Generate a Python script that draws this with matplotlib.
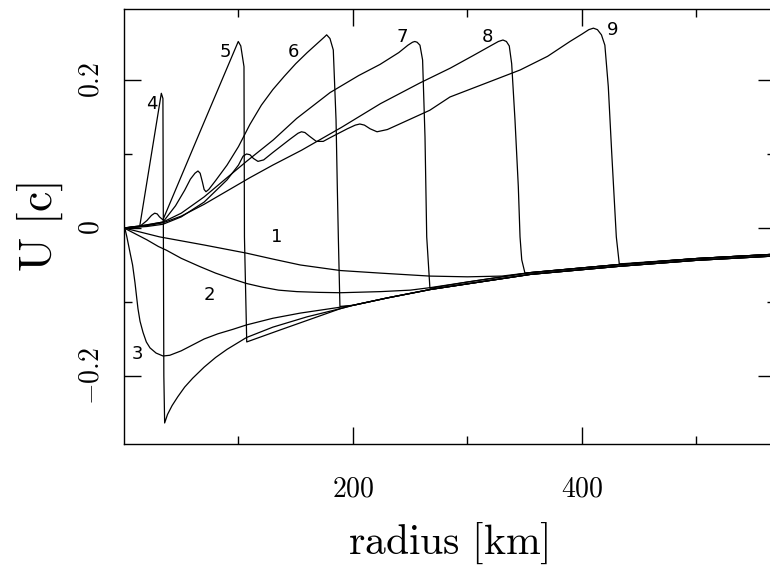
import numpy as np
import matplotlib
matplotlib.use('Agg')
import matplotlib.pyplot as plt

plt.rcParams['mathtext.fontset'] = 'cm'

# infall region outside the shock: the profiles merge into a narrow bundle
tail_r = [200, 230, 268, 300, 355, 433, 500, 570]
tail_hi = [-0.102, -0.092, -0.0805, -0.073, -0.0603, -0.0493, -0.0413, -0.0353]
tail_lo = [-0.1045, -0.0945, -0.083, -0.0755, -0.0627, -0.0517, -0.0437, -0.0377]

# velocity profiles, radius [km] vs U [c]
r1 = [0, 31, 70, 107, 130, 154, 189, 224, 267, 300, 330]
u1 = [0, -0.012, -0.023, -0.034, -0.042, -0.050, -0.0575, -0.061, -0.065, -0.066, -0.065]

r2 = [0, 10, 20, 30, 37, 50, 66, 80, 93, 107, 121, 135, 151, 170, 189, 224, 250]
u2 = [0, -0.008, -0.016, -0.025, -0.030, -0.041, -0.052, -0.061, -0.068, -0.075,
      -0.080, -0.084, -0.086, -0.087, -0.0875, -0.086, -0.084]

r3 = [0, 1, 2.5, 5.5, 7.5, 9.6, 11, 12.2, 14, 16.6, 19.5, 22.7, 28, 34.1, 40, 50, 60,
      70, 82, 95, 107, 130, 154, 189]
u3 = [0, -0.002, -0.012, -0.035, -0.050, -0.074, -0.093, -0.109, -0.126, -0.141,
      -0.154, -0.162, -0.169, -0.173, -0.172, -0.166, -0.158, -0.150, -0.143, -0.137,
      -0.131, -0.122, -0.115, -0.107]

r4 = [0, 8, 13.7, 32.6, 34.0, 34.8, 35.5, 38, 42, 47, 53, 60, 70, 80, 90, 107, 130,
      160, 189]
u4 = [0, 0.001, 0.002, 0.182, 0.175, -0.20, -0.2635, -0.252, -0.240, -0.228, -0.215,
      -0.203, -0.188, -0.175, -0.164, -0.148, -0.134, -0.120, -0.109]

r5 = [0, 8, 13.7, 20, 24, 26.8, 29, 31, 34, 66.4, 99.8, 102, 104.8, 105.0, 105.2,
      107.2, 136, 189]
u5 = [0, 0.001, 0.002, 0.010, 0.017, 0.020, 0.019, 0.015, 0.011, 0.130, 0.252, 0.246,
      0.218, 0.105, -0.012, -0.154, -0.138, -0.109]

r6 = [0, 15, 34, 45, 53, 58, 62, 64.6, 66.5, 68.5, 70, 71.6, 74, 80, 90, 100, 110,
      120, 130, 140, 150, 160, 170, 175, 177, 179.9, 182.8, 185.2, 186.3, 187.2, 188.6]
u6 = [0, 0.003, 0.008, 0.030, 0.051, 0.066, 0.074, 0.077, 0.074, 0.062, 0.052, 0.049,
      0.052, 0.064, 0.085, 0.110, 0.140, 0.166, 0.187, 0.205, 0.222, 0.237, 0.251,
      0.258, 0.261, 0.256, 0.2405, 0.146, 0.056, -0.012, -0.106]

r7 = [0, 20, 34, 50, 70, 90, 107, 130.4, 150.8, 180, 205, 223.6, 240, 248, 252, 254,
      256, 258.5, 260.8, 262.9, 264.4, 267.2]
u7 = [0, 0.004, 0.008, 0.020, 0.042, 0.068, 0.090, 0.119, 0.148, 0.183, 0.206, 0.221,
      0.237, 0.247, 0.251, 0.252, 0.251, 0.247, 0.227, 0.123, -0.012, -0.0815]

r8 = [0, 20, 34, 50, 70, 90, 110, 130, 155, 190, 224, 258.5, 285, 305, 320, 327, 331,
      334, 336.5, 338.6, 341.5, 344.4, 345.9, 347.4, 350.2]
u8 = [0, 0.003, 0.007, 0.016, 0.032, 0.050, 0.068, 0.085, 0.105, 0.136, 0.168, 0.196,
      0.216, 0.233, 0.246, 0.252, 0.254, 0.252, 0.246, 0.222, 0.146, 0.056, -0.012,
      -0.043, -0.061]

r9 = [0, 20, 34, 50, 70, 90, 100, 104, 107, 110, 113, 117, 122, 130, 145, 152, 155,
      158, 162, 168, 174, 180, 195, 202, 206, 210, 215, 221, 230, 240, 267, 284.7,
      320, 346, 370, 389.5, 400, 406, 410, 413.5, 417, 420, 423, 426, 430, 432.6]
u9 = [0, 0.002, 0.005, 0.015, 0.035, 0.065, 0.085, 0.097, 0.100, 0.099, 0.094, 0.090,
      0.092, 0.102, 0.120, 0.128, 0.130, 0.129, 0.124, 0.117, 0.117, 0.122, 0.134,
      0.139, 0.1405, 0.139, 0.134, 0.130, 0.133, 0.140, 0.159, 0.177, 0.198, 0.2135,
      0.232, 0.252, 0.262, 0.268, 0.270, 0.268, 0.261, 0.247, 0.191, 0.101, -0.012,
      -0.0486]

# curve labels
label_names = ['1', '2', '3', '4', '5', '6', '7', '8', '9']
label_r = [133.6, 75, 11.4, 24.5, 88.2, 148, 243, 317, 427]
label_u = [-0.012, -0.090, -0.170, 0.167, 0.238, 0.238, 0.258, 0.258, 0.268]


def with_tail(r, u, tail_u):
    # continue a profile along the infall bundle beyond its last point
    r_last = r[-1]
    rr = list(r) + [x for x in tail_r if x > r_last + 5]
    uu = list(u) + [y for x, y in zip(tail_r, tail_u) if x > r_last + 5]
    return rr, uu


fig = plt.figure(figsize=(7.70, 5.68), dpi=100)
ax = fig.add_axes([124 / 770, 124 / 568, 651 / 770, 435 / 568])

profiles = [(r1, u1, tail_hi), (r2, u2, tail_hi), (r3, u3, tail_lo),
            (r4, u4, tail_lo), (r5, u5, tail_lo), (r6, u6, tail_lo),
            (r7, u7, tail_hi), (r8, u8, tail_hi), (r9, u9, tail_hi)]
for r, u, t in profiles:
    rr, uu = with_tail(r, u, t)
    ax.plot(rr, uu, color='black', lw=0.9)

for name, x, y in zip(label_names, label_r, label_u):
    ax.text(x, y, name, fontsize=13, ha='center', va='center', family='DejaVu Sans')

ax.set_xlim(0, 568.6)
ax.set_ylim(-0.2919, 0.2959)

ax.set_xticks([200, 400])
ax.set_xticks([100, 300, 500], minor=True)
ax.set_xticklabels([r'$200$', r'$400$'], fontsize=20)
ax.set_yticks([-0.2, 0, 0.2])
ax.set_yticks([-0.1, 0.1], minor=True)
ax.set_yticklabels([r'$-0.2$', r'$0$', r'$0.2$'], fontsize=20, rotation=90, va='center')

ax.tick_params(which='both', direction='in', top=True, right=True, width=1.0)
ax.tick_params(which='major', length=12)
ax.tick_params(which='minor', length=6)
ax.tick_params(axis='x', pad=22)
ax.tick_params(axis='y', pad=14)
for s in ax.spines.values():
    s.set_linewidth(1.0)

ax.set_xlabel(r'$\mathrm{radius\ [km]}$', fontsize=30)
ax.xaxis.label.set_verticalalignment('center')
ax.xaxis.set_label_coords(0.498, -0.228)
ax.set_ylabel(r'$\mathrm{U\ [c]}$', fontsize=33)
ax.yaxis.label.set_verticalalignment('center')
ax.yaxis.set_label_coords(-0.129, 0.499)

fig.savefig('out.png', dpi=100)
